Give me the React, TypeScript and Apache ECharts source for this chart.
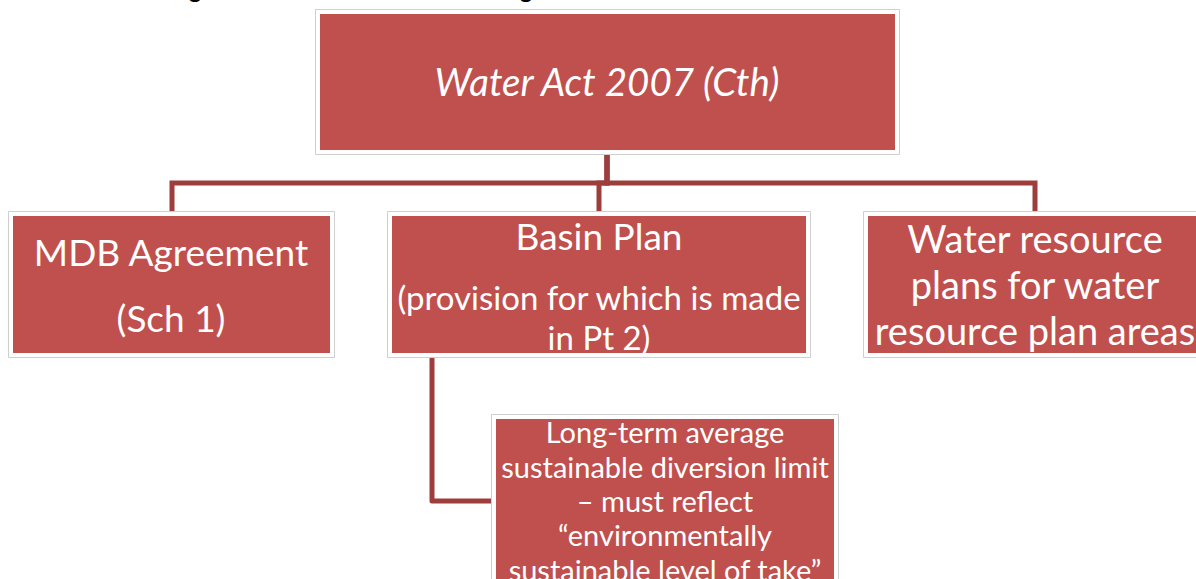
import React, { useEffect, useRef } from "react";
import * as echarts from "echarts";

const nodeIds = ["act", "mdb", "basin", "wrp", "sdl"];
const nodeLines: string[][] = [
  ["Water Act 2007 (Cth)"],
  ["MDB Agreement", "(Sch 1)"],
  ["Basin Plan", "(provision for which is made", "in Pt 2)"],
  ["Water resource", "plans for water", "resource plan areas"],
  ["Long-term average", "sustainable diversion limit", "– must reflect", "“environmentally", "sustainable level of take”"],
];
const links: [string, string][] = [
  ["act", "mdb"],
  ["act", "basin"],
  ["act", "wrp"],
  ["basin", "sdl"],
];
const titleFragments = ["g", "g"];

// layout (inner red boxes)
const boxes: Record<string, { x: number; y: number; w: number; h: number }> = {
  act: { x: 320, y: 14, w: 575, h: 136 },
  mdb: { x: 13, y: 216, w: 317, h: 137 },
  basin: { x: 392, y: 216, w: 414, h: 137 },
  wrp: { x: 868, y: 216, w: 340, h: 137 },
  sdl: { x: 496, y: 419, w: 338, h: 200 },
};
const textStyles: Record<string, { ys: number[]; sizes: number[]; cx: number; italic?: boolean }> = {
  act: { ys: [81], sizes: [38.5], cx: 607, italic: true },
  mdb: { ys: [251, 317], sizes: [37, 37], cx: 171 },
  basin: { ys: [235, 297, 337], sizes: [37, 33, 33], cx: 599 },
  wrp: { ys: [238, 284, 330], sizes: [38, 38, 38], cx: 1035 },
  sdl: { ys: [431, 466, 500, 534, 569], sizes: [29, 29, 29, 29, 29], cx: 665 },
};

const FILL = "#c0504d";
const LINE = "#9e3e3c";
const FONT = "Lato, 'Open Sans', sans-serif";

export default function App() {
  const ref = useRef<HTMLDivElement>(null);
  useEffect(() => {
    document.body.style.margin = "0";
    const chart = echarts.init(ref.current!, undefined, { renderer: "svg" });
    const elements: any[] = [];

    // connectors
    const busY = 183;
    const lw = 5;
    links.forEach(([from, to]) => {
      const a = boxes[from];
      const b = boxes[to];
      if (from === "act") {
        const bx = to === "mdb" ? 172 : to === "basin" ? 599 : 1035;
        elements.push({
          type: "polyline",
          shape: { points: [[607, a.y + a.h + 4], [607, busY], [bx, busY], [bx, b.y - 4]] },
          style: { stroke: LINE, lineWidth: lw, fill: null, lineJoin: "miter" },
        });
      } else {
        const vx = 432;
        elements.push({
          type: "polyline",
          shape: { points: [[vx, a.y + a.h + 4], [vx, 501], [b.x - 4, 501]] },
          style: { stroke: LINE, lineWidth: lw, fill: null, lineJoin: "round" },
        });
      }
    });

    nodeIds.forEach((id, i) => {
      const b = boxes[id];
      elements.push({
        type: "rect",
        shape: { x: b.x - 4.5, y: b.y - 4.5, width: b.w + 9, height: b.h + 9 },
        style: { fill: "#ffffff", stroke: "#cfcfcf", lineWidth: 1 },
        z: 5,
      });
      elements.push({
        type: "rect",
        shape: { x: b.x, y: b.y, width: b.w, height: b.h },
        style: { fill: FILL },
        z: 6,
      });
      const ts = textStyles[id];
      nodeLines[i].forEach((line, j) => {
        elements.push({
          type: "text",
          x: ts.cx,
          y: ts.ys[j],
          z: 7,
          style: {
            text: line,
            fill: "#ffffff",
            font: `${ts.italic ? "italic " : ""}${ts.sizes[j]}px ${FONT}`,
            align: "center",
            verticalAlign: "middle",
          },
        });
      });
    });

    // cut-off title descenders at very top
    [195, 526].forEach((x, i) => {
      elements.push({
        type: "text",
        x,
        y: -24,
        style: {
          text: titleFragments[i],
          fill: "#000000",
          font: `bold 24px ${FONT}`,
          align: "center",
          verticalAlign: "top",
        },
      });
    });

    chart.setOption({ animation: false, backgroundColor: "#ffffff", graphic: { elements } });
    return () => chart.dispose();
  }, []);
  return <div ref={ref} style={{ position: "absolute", left: 0, top: 0, width: 1196, height: 579 }} />;
}
